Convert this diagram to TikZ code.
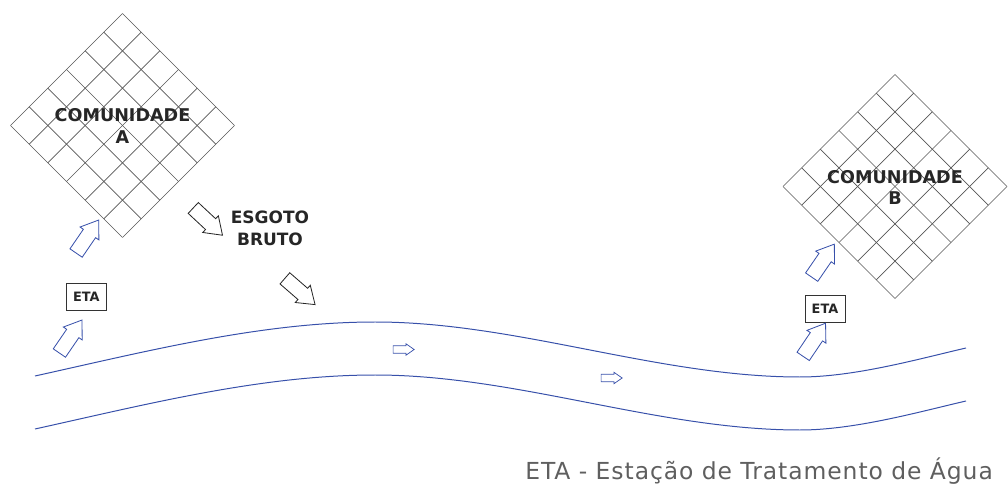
\documentclass[tikz,border=0pt]{standalone}
\usepackage{fontspec}
\setmainfont{DejaVu Sans}
\newfontfamily\legendafont{DejaVu Sans}[LetterSpace=4]
\usetikzlibrary{shapes.arrows}
\definecolor{azulrio}{RGB}{55,80,170}
\definecolor{cinzagrade}{RGB}{85,85,85}
\definecolor{cinzatexto}{RGB}{95,95,95}
\tikzset{
	grade/.style={draw=cinzagrade, line width=0.55pt},
	margem/.style={draw=azulrio, line width=0.85pt},
	rotulo/.style={text=black!85, align=center, font=\bfseries\fontsize{15}{18.7}\selectfont},
	estacao/.style={draw=black!80, line width=0.6pt, minimum width=1.2cm, minimum height=0.8cm, inner sep=0pt, text=black!85, font=\bfseries\fontsize{11}{12}\selectfont},
	seta/.style={single arrow, line width=0.7pt, minimum height=1.2cm, minimum width=0.66cm, inner sep=0.21cm, single arrow head extend=0.12cm, single arrow tip angle=70},
	setinha/.style={single arrow, draw=azulrio, line width=0.6pt, minimum height=0.63cm, minimum width=0.32cm, inner sep=0.1cm, single arrow head extend=0.06cm, single arrow tip angle=70}
}
% grade em losango: centro (#1,#2), meia diagonal 112
\def\comunidade(#1,#2){\foreach \i in {0,...,6}{
		\draw[grade] ({#1-112+\i*112/6}, {#2+\i*112/6}) -- ++(112,-112);
		\draw[grade] ({#1-112+\i*112/6}, {#2-\i*112/6}) -- ++(112,112);}}

\begin{document}
\begin{tikzpicture}[x=0.03cm, y=-0.03cm]
			%%%%% START %%%%%
			\useasboundingbox (0,0) rectangle (1008,487);
			
			\comunidade(122.5,125.5)
			\node[rotulo] (comA) at (122.5,126) {COMUNIDADE\\A};
			
			\comunidade(895,186.5)
			\node[rotulo] (comB) at (895,187.5) {COMUNIDADE\\B};
			
			\node[seta, draw=black!85, rotate=-43] (esgoto1) at (204,218) {};
			\node[seta, draw=black!85, rotate=-41] (esgoto2) at (296,288) {};
			\node[rotulo, font=\bfseries\fontsize{14.5}{18.7}\selectfont] (esgoto) at (270,228) {ESGOTO\\BRUTO};
			
			\node[estacao] (etaA) at (86.3,296.7) {ETA};
			\node[seta, draw=azulrio, rotate=55.6] (captA) at (67.7,340.9) {};
			\node[seta, draw=azulrio, rotate=55.6] (abastA) at (84.4,240.9) {};
			
			\node[estacao] (etaB) at (825,309) {ETA};
			\node[seta, draw=azulrio, rotate=56] (captB) at (811.4,344.2) {};
			\node[seta, draw=azulrio, rotate=55.5] (abastB) at (820,265) {};
			
			% margens do rio
			\foreach \d in {0,53}{
				\draw[margem] (35,376+\d) .. controls (148,351+\d) and (262,322+\d) .. (375,322+\d)
					.. controls (517,322+\d) and (658,377+\d) .. (800,377+\d)
					.. controls (855,377+\d) and (920,358.6+\d) .. (966,348+\d);}
			
			\node[setinha] (fluxo1) at (401,349.5) {};
			\node[setinha] (fluxo2) at (609,378) {};
			
			\node[anchor=base east, text=cinzatexto, font=\legendafont\fontsize{20}{24}\selectfont] (legenda) at (997,479) {ETA - Estação de Tratamento de Água};
			
			%%%%% END %%%%%
\end{tikzpicture}
\end{document}
